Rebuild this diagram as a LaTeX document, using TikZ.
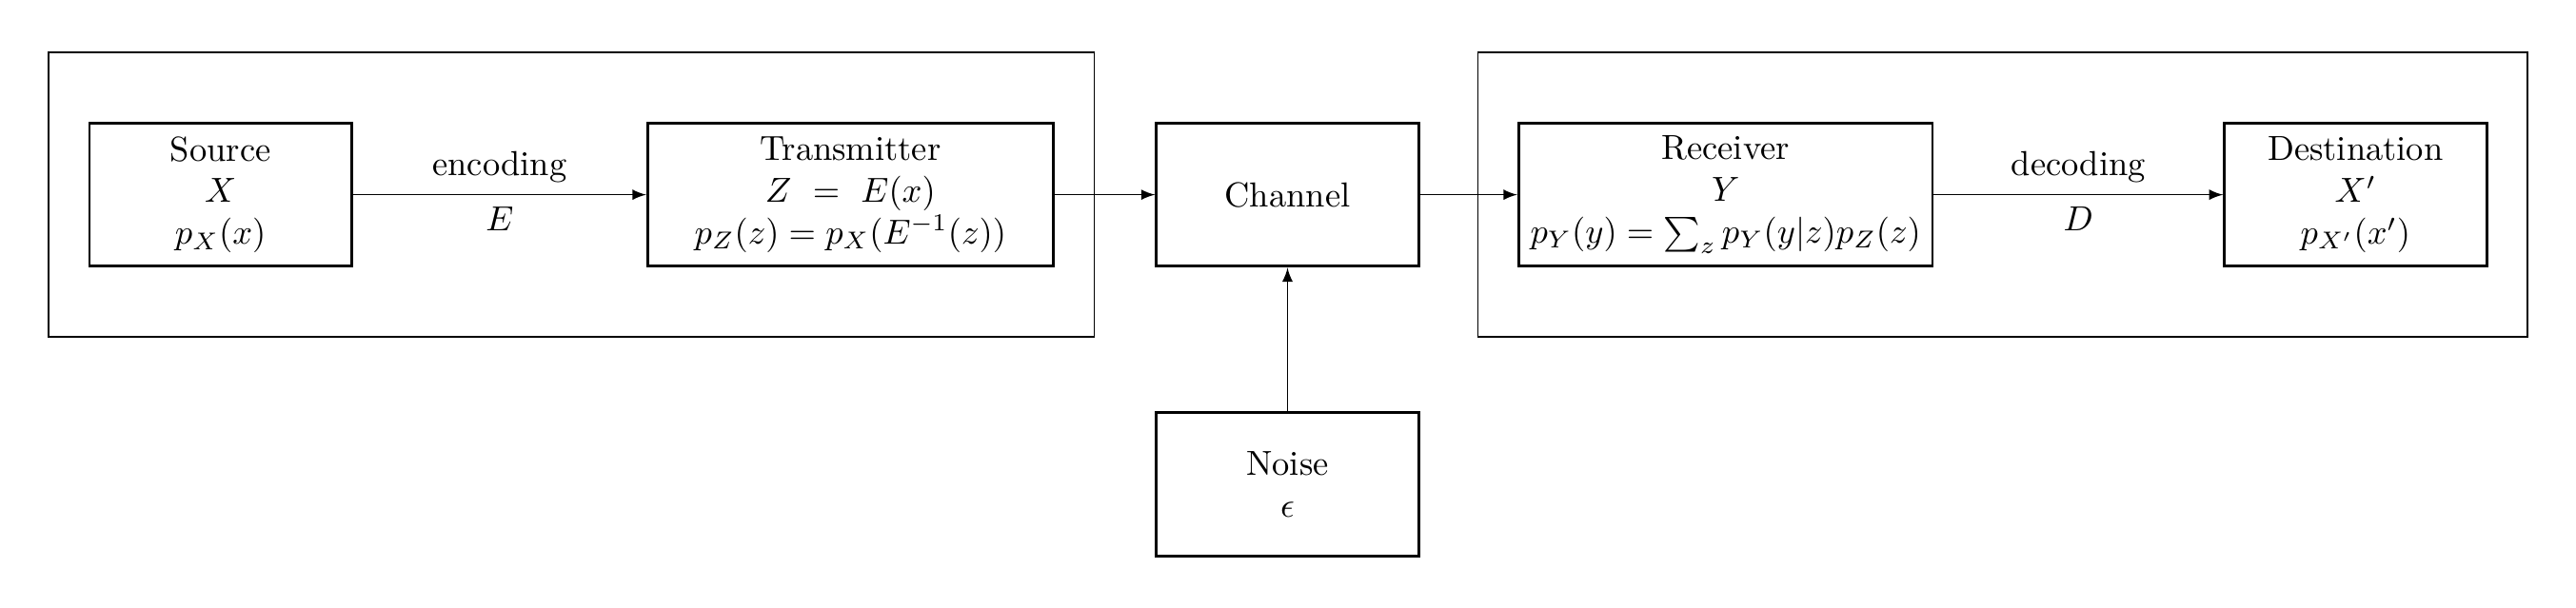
\documentclass[tikz,border=0pt]{standalone}
\usetikzlibrary{fit}

\begin{document}
\begin{tikzpicture}[
  block/.style={draw, thick, minimum width=2.65cm, minimum height=1.45cm, align=center},
  wideblock/.style={block, minimum width=4.1cm},
  group/.style={draw, thin, inner xsep=0.4cm, inner ysep=0.7cm},
  flow/.style={-latex}
]

\useasboundingbox (0,0) rectangle (26.05,6.15);

% sender side
\node[block] (source) at (2.23,4.18) {Source\\ $X$\\ $p_X(x)$};
\node[wideblock] (transmitter) at (8.6,4.18) {Transmitter\\ $Z \ = \ E(x)$\\ $p_Z(z) = p_X(E^{-1}(z))$};

% channel and noise
\node[block] (channel) at (13.02,4.18) {Channel};
\node[block] (noise) at (13.02,1.25) {Noise\\ $\epsilon$};

% receiver side
\node[wideblock] (receiver) at (17.45,4.18) {Receiver\\ $Y$\\ $p_Y(y) = \sum_z p_Y(y|z)p_Z(z)$};
\node[block] (destination) at (23.82,4.18) {Destination\\ $X'$\\ $p_{X'}(x')$};

\node[group, fit=(source) (transmitter)] (sender) {};
\node[group, fit=(receiver) (destination)] (decoder) {};

\draw[flow] (source) -- node[above] {encoding} node[below] {$E$} (transmitter);
\draw[flow] (transmitter) -- (channel);
\draw[flow] (channel) -- (receiver);
\draw[flow] (receiver) -- node[above] {decoding} node[below] {$D$} (destination);
\draw[flow] (noise) -- (channel);

\end{tikzpicture}
\end{document}
